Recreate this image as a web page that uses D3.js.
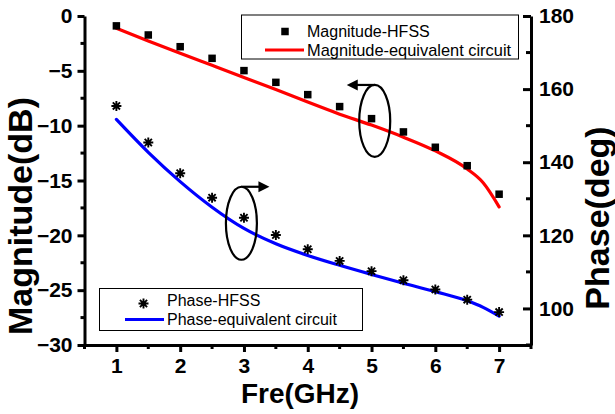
<!DOCTYPE html>
<html><head><meta charset="utf-8">
<script src="https://cdn.jsdelivr.net/npm/d3@7"></script>
<style>
html,body{margin:0;padding:0;background:#fff;}
svg{display:block;font-family:"Liberation Sans",Arial,sans-serif;}
</style></head>
<body>
<svg id="c" width="615" height="414"></svg>
<script>
// ---- data ----
const freq = [1,1.5,2,2.5,3,3.5,4,4.5,5,5.5,6,6.5,7];
const magHFSS = [-0.9,-1.73,-2.8,-3.86,-4.98,-6.05,-7.17,-8.26,-9.36,-10.57,-11.97,-13.65,-16.25];
const phaseHFSS = [155.4,145.4,137.0,130.3,124.8,120.1,116.2,113.0,110.2,107.7,105.2,102.4,99.0];
const fitFreq = [1,1.5,2,2.5,3,3.5,4,4.5,5,5.5,6,6.5,6.75,7];
const magFit = [-1.12,-2.27,-3.4,-4.5,-5.6,-6.7,-7.85,-8.95,-9.95,-11.05,-12.3,-13.95,-15.2,-17.4];
const phaseFit = [151.7,142.7,134.7,127.7,121.9,117.7,114.5,111.8,109.3,106.9,104.6,102.1,100.3,97.9];
const xTicks = [1,2,3,4,5,6,7];
const magTicks = [0,-5,-10,-15,-20,-25,-30];
const phaseTicks = [100,120,140,160,180];

const svg = d3.select("#c");
const x = d3.scaleLinear().domain([0.5,7.5]).range([84.5,531]);
const yL = d3.scaleLinear().domain([-30,0]).range([345,16]);
const yR = d3.scaleLinear().domain([90,180]).range([345,16]);

const AX_W = 3;
function styleAxis(g){
  g.select(".domain").attr("stroke","#000").attr("stroke-width",AX_W);
  g.selectAll(".tick line").attr("stroke","#000").attr("stroke-width",AX_W);
  g.selectAll(".tick text").attr("font-family","'Liberation Sans',Arial,sans-serif")
    .attr("font-weight","bold").attr("font-size",21).attr("fill","#000");
}

const xMinor = d3.range(0.5,7.51,1);
const magMinor = d3.range(-27.5,0,5);
const phMinor = [90,110,130,150,170];

// bottom axis
const gx = svg.append("g").attr("transform","translate(0,345)")
  .call(d3.axisBottom(x).tickValues(xTicks).tickSize(7).tickSizeOuter(0).tickPadding(6).tickFormat(d3.format("d")));
styleAxis(gx);
gx.selectAll(".minor").data(xMinor).enter().append("line")
  .attr("x1",d=>x(d)).attr("x2",d=>x(d)).attr("y1",0).attr("y2",4)
  .attr("stroke","#000").attr("stroke-width",AX_W);

// left axis
const gl = svg.append("g").attr("transform","translate(84.5,0)")
  .call(d3.axisLeft(yL).tickValues(magTicks).tickSize(7).tickSizeOuter(0).tickPadding(5).tickFormat(d3.format("d")));
styleAxis(gl);
gl.selectAll(".minor").data(magMinor).enter().append("line")
  .attr("y1",d=>yL(d)).attr("y2",d=>yL(d)).attr("x1",0).attr("x2",-4)
  .attr("stroke","#000").attr("stroke-width",AX_W);

// right axis (ticks point inward)
const gr = svg.append("g").attr("transform","translate(531,0)")
  .call(d3.axisRight(yR).tickValues(phaseTicks).tickSize(-8).tickSizeOuter(0).tickFormat(d3.format("d")));
styleAxis(gr);
gr.selectAll(".minor").data(phMinor).enter().append("line")
  .attr("y1",d=>yR(d)).attr("y2",d=>yR(d)).attr("x1",0).attr("x2",-5)
  .attr("stroke","#000").attr("stroke-width",AX_W);
gr.selectAll(".tick text").attr("x",8);

// axis titles
svg.append("text").attr("x",300).attr("y",403).attr("text-anchor","middle")
  .attr("font-weight","bold").attr("font-size",28).text("Fre(GHz)");
svg.append("text").attr("transform","translate(32,216) rotate(-90)").attr("text-anchor","middle")
  .attr("font-weight","bold").attr("font-size",34).text("Magnitude(dB)");
svg.append("text").attr("transform","translate(609,218) rotate(-90)").attr("text-anchor","middle")
  .attr("font-weight","bold").attr("font-size",34).text("Phase(deg)");

// curves
const lineMag = d3.line().x((d,i)=>x(fitFreq[i])).y(d=>yL(d)).curve(d3.curveMonotoneX);
const linePh = d3.line().x((d,i)=>x(fitFreq[i])).y(d=>yR(d)).curve(d3.curveMonotoneX);
svg.append("path").attr("d",lineMag(magFit)).attr("fill","none").attr("stroke","#ff0000").attr("stroke-width",3.2).attr("stroke-linecap","round");
svg.append("path").attr("d",linePh(phaseFit)).attr("fill","none").attr("stroke","#0000ff").attr("stroke-width",3.2).attr("stroke-linecap","round");

// markers
function star(g,cx,cy,r){
  const a = r*0.72;
  const p = `M${cx-r},${cy}L${cx+r},${cy}M${cx},${cy-r}L${cx},${cy+r}M${cx-a},${cy-a}L${cx+a},${cy+a}M${cx-a},${cy+a}L${cx+a},${cy-a}`;
  g.append("path").attr("d",p).attr("stroke","#000").attr("stroke-width",1.9).attr("fill","none");
}
const sq = 7.5;
svg.append("g").selectAll("rect").data(magHFSS).enter().append("rect")
  .attr("x",(d,i)=>x(freq[i])-sq/2).attr("y",d=>yL(d)-sq/2).attr("width",sq).attr("height",sq).attr("fill","#000");
const gs = svg.append("g");
phaseHFSS.forEach((d,i)=>star(gs,x(freq[i]),yR(d),5));

// annotations: ellipses + arrows
function ann(cx,cy,rx,ry,dir){
  svg.append("ellipse").attr("cx",cx).attr("cy",cy).attr("rx",rx).attr("ry",ry)
    .attr("fill","none").attr("stroke","#000").attr("stroke-width",2.2);
  const ty = cy-ry;
  const tip = cx + dir*28;
  svg.append("line").attr("x1",cx).attr("y1",ty).attr("x2",tip-dir*8).attr("y2",ty)
    .attr("stroke","#000").attr("stroke-width",2.2);
  svg.append("path").attr("d",`M${tip},${ty}L${tip-dir*11},${ty-5.5}L${tip-dir*11},${ty+5.5}Z`).attr("fill","#000");
}
ann(x(5.05),yL(-9.57),15.5,36,-1);
ann(x(2.96),yR(123.3),15.5,36.5,1);

// legends
function legend(x0,y0,w,h){
  const g = svg.append("g");
  g.append("rect").attr("x",x0).attr("y",y0).attr("width",w).attr("height",h)
    .attr("fill","#fff").attr("stroke","#000").attr("stroke-width",1);
  return g;
}
const lg1 = legend(241.5,15,277,44);
lg1.append("rect").attr("x",285-3.75).attr("y",31.5-3.75).attr("width",sq).attr("height",sq).attr("fill","#000");
lg1.append("text").attr("x",307).attr("y",36.5).attr("font-size",16).text("Magnitude-HFSS");
lg1.append("line").attr("x1",265).attr("x2",304).attr("y1",50).attr("y2",50).attr("stroke","#ff0000").attr("stroke-width",3.2);
lg1.append("text").attr("x",307).attr("y",56).attr("font-size",16.4).text("Magnitude-equivalent circuit");

const lg2 = legend(99.5,288.5,263,42);
star(lg2,143.5,303.5,5);
lg2.append("text").attr("x",167).attr("y",305.5).attr("font-size",16).text("Phase-HFSS");
lg2.append("line").attr("x1",125).attr("x2",164).attr("y1",319.5).attr("y2",319.5).attr("stroke","#0000ff").attr("stroke-width",3.2);
lg2.append("text").attr("x",167).attr("y",325).attr("font-size",16).text("Phase-equivalent circuit");
</script>
</body></html>
